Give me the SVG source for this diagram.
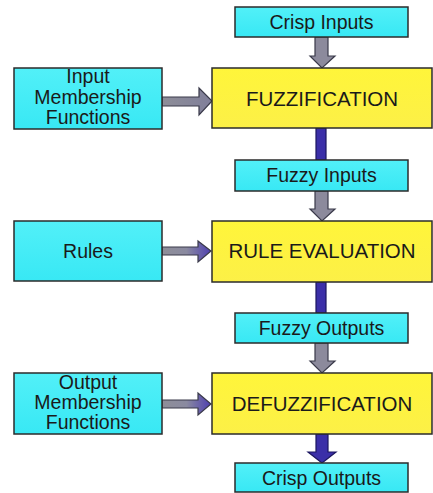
<svg xmlns="http://www.w3.org/2000/svg" width="433" height="493" viewBox="0 0 433 493">
<defs>
<linearGradient id="cy" x1="0" y1="0" x2="0" y2="1"><stop offset="0" stop-color="#52F0F8"/><stop offset="1" stop-color="#38E8F4"/></linearGradient>
<linearGradient id="ye" x1="0" y1="0" x2="0" y2="1"><stop offset="0" stop-color="#FFF53A"/><stop offset="1" stop-color="#FCF047"/></linearGradient>
<linearGradient id="hg" x1="0" y1="0" x2="1" y2="0"><stop offset="0" stop-color="#8E8E98"/><stop offset="0.5" stop-color="#8A8AA0"/><stop offset="1" stop-color="#4E3FB0"/></linearGradient>
<linearGradient id="hg0" x1="0" y1="0" x2="1" y2="0"><stop offset="0" stop-color="#8E8E98"/><stop offset="1" stop-color="#807F9A"/></linearGradient>
</defs>
<style>
.c{fill:url(#cy);stroke:#2b2b2b;stroke-width:1.5}
.y{fill:url(#ye);stroke:#2b2b2b;stroke-width:1.5}
text{font-family:"Liberation Sans",Arial,sans-serif;fill:#1a1a1a;text-anchor:middle}
.s{font-size:19.5px}
.b{font-size:20.5px}
.g{fill:#8C8A9C;stroke:#3a3a4a;stroke-width:1.2}
.bl{fill:#3B2FA8;stroke:#1c1660;stroke-width:1.2}
</style>
<g id="connectors">
<polygon class="g" points="315,37 328,37 328,56 335,56 322,68 310,56 315,56"/>
<rect class="bl" x="316" y="128" width="10" height="32"/>
<polygon class="g" points="315,191 328,191 328,209 335,209 322,221 310,209 315,209"/>
<rect class="bl" x="316" y="282" width="10" height="31"/>
<polygon class="g" points="315,343 328,343 328,361 335,361 322,373 310,361 315,361"/>
<polygon class="bl" points="316,434 328,434 328,452 336,452 322,463 308,452 316,452"/>
<polygon points="162,97 199,97 199,88 212,101 199,115 199,106 162,106" fill="url(#hg0)" stroke="#3a3a4a" stroke-width="1.2"/>
<polygon points="162,247 198,247 198,241 211,251 198,262 198,255 162,255" fill="url(#hg)" stroke="#3a3a4a" stroke-width="1.2"/>
<polygon points="162,400 198,400 198,393 211,404 198,415 198,408 162,408" fill="url(#hg)" stroke="#3a3a4a" stroke-width="1.2"/>
</g>
<g id="crisp-inputs"><rect class="c" x="235" y="7" width="173" height="30"/><text class="s" x="321.5" y="29">Crisp Inputs</text></g>
<g id="fuzzification"><rect class="y" x="212" y="68" width="220" height="60"/><text class="b" x="322" y="106">FUZZIFICATION</text></g>
<g id="input-mf"><rect class="c" x="14" y="68" width="148" height="61"/><text class="s" x="88" y="83">Input</text><text class="s" x="88" y="104">Membership</text><text class="s" x="88" y="124">Functions</text></g>
<g id="fuzzy-inputs"><rect class="c" x="235" y="160" width="173" height="31"/><text class="s" x="321.5" y="182">Fuzzy Inputs</text></g>
<g id="rule-evaluation"><rect class="y" x="212" y="221" width="220" height="61"/><text class="b" x="322" y="258">RULE EVALUATION</text></g>
<g id="rules"><rect class="c" x="14" y="221" width="148" height="60"/><text class="s" x="88" y="258">Rules</text></g>
<g id="fuzzy-outputs"><rect class="c" x="235" y="313" width="173" height="30"/><text class="s" x="321.5" y="335">Fuzzy Outputs</text></g>
<g id="defuzzification"><rect class="y" x="212" y="373" width="220" height="61"/><text class="b" x="322" y="411">DEFUZZIFICATION</text></g>
<g id="output-mf"><rect class="c" x="14" y="373" width="148" height="61"/><text class="s" x="88" y="389">Output</text><text class="s" x="88" y="409">Membership</text><text class="s" x="88" y="429">Functions</text></g>
<g id="crisp-outputs"><rect class="c" x="235" y="463" width="173" height="29"/><text class="s" x="321.5" y="485">Crisp Outputs</text></g>
</svg>
